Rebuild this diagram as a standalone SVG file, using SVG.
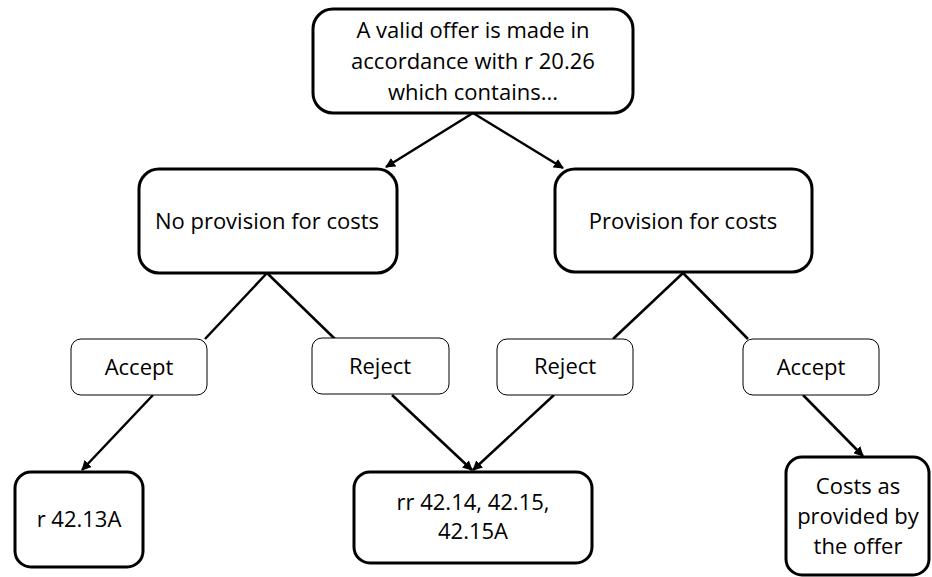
<svg xmlns="http://www.w3.org/2000/svg" width="932" height="577" viewBox="0 0 932 577">
<defs>
<style>
.big{fill:#fff;stroke:#000;stroke-width:3}
.small{fill:#fff;stroke:#000;stroke-width:1}
text{font-family:"Open Sans","Liberation Sans",sans-serif;font-size:22px;fill:#000;text-anchor:middle}
.c line{stroke:#000;stroke-width:2.5}
</style>
<marker id="ah" viewBox="0 0 10 10" refX="9" refY="5" markerWidth="4" markerHeight="4" orient="auto" markerUnits="strokeWidth">
<path d="M0,0 L10,5 L0,10 z" fill="#000"/>
</marker>
</defs>
<rect width="932" height="577" fill="#fff"/>
<g class="c" id="connectors">
<line x1="473" y1="113" x2="386" y2="167" marker-end="url(#ah)"/>
<line x1="473" y1="113" x2="563" y2="168" marker-end="url(#ah)"/>
<line x1="267" y1="273" x2="205" y2="339"/>
<line x1="267" y1="273" x2="335" y2="339"/>
<line x1="683" y1="273" x2="613" y2="339"/>
<line x1="683" y1="273" x2="748" y2="339"/>
<line x1="153" y1="395" x2="82" y2="470" marker-end="url(#ah)"/>
<line x1="392" y1="395" x2="472" y2="470" marker-end="url(#ah)"/>
<line x1="554" y1="395" x2="473" y2="470" marker-end="url(#ah)"/>
<line x1="803" y1="395" x2="863" y2="456" marker-end="url(#ah)"/>
</g>
<g id="top">
<rect class="big" x="313" y="9" width="320" height="104" rx="20"/>
<text x="473" y="38">A valid offer is made in</text>
<text x="473" y="69">accordance with r 20.26</text>
<text x="473" y="100">which contains...</text>
</g>
<g id="noprov">
<rect class="big" x="139" y="169" width="258" height="104" rx="20"/>
<text x="267" y="229">No provision for costs</text>
</g>
<g id="prov">
<rect class="big" x="555" y="169" width="257" height="103" rx="20"/>
<text x="683" y="229">Provision for costs</text>
</g>
<g id="accept1">
<rect class="small" x="71" y="339" width="136" height="56" rx="10"/>
<text x="139" y="375">Accept</text>
</g>
<g id="reject1">
<rect class="small" x="312" y="338" width="137" height="56" rx="10"/>
<text x="380" y="374">Reject</text>
</g>
<g id="reject2">
<rect class="small" x="497" y="339" width="136" height="56" rx="10"/>
<text x="565" y="374">Reject</text>
</g>
<g id="accept2">
<rect class="small" x="743" y="339" width="136" height="56" rx="10"/>
<text x="811" y="375">Accept</text>
</g>
<g id="r4213a">
<rect class="big" x="15" y="472" width="128" height="95" rx="16"/>
<text x="79" y="527">r 42.13A</text>
</g>
<g id="rr">
<rect class="big" x="354" y="472" width="238" height="91" rx="16"/>
<text x="473" y="510">rr 42.14, 42.15,</text>
<text x="473" y="539">42.15A</text>
</g>
<g id="costs">
<rect class="big" x="786" y="457" width="143" height="118" rx="16"/>
<text x="858" y="494">Costs as</text>
<text x="858" y="524">provided by</text>
<text x="858" y="554">the offer</text>
</g>
</svg>
